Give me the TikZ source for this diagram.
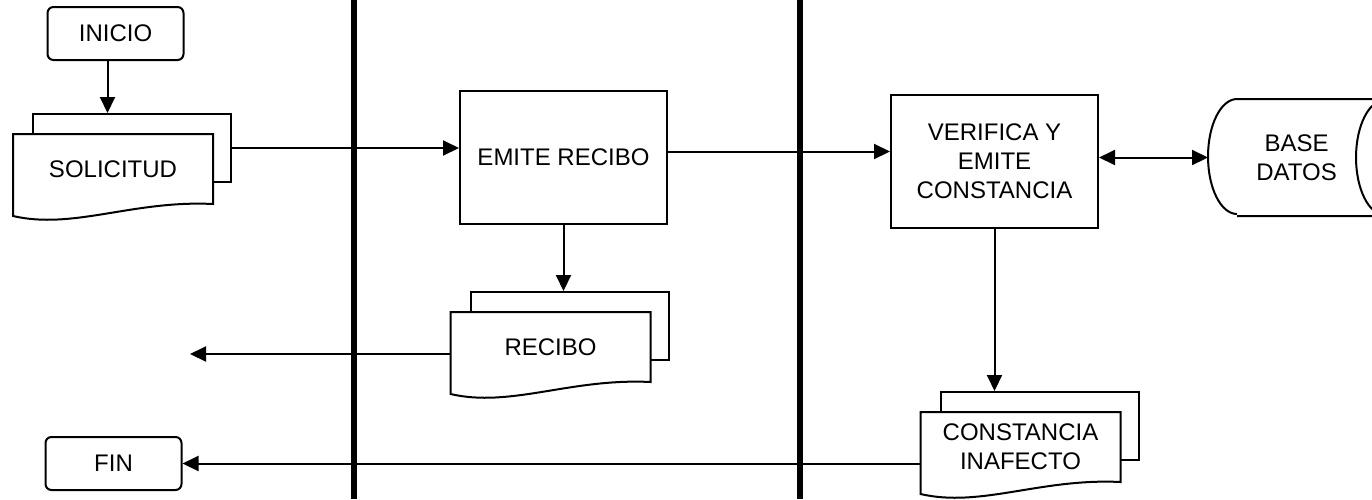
\documentclass[tikz,border=0pt]{standalone}
\usepackage{fontspec}
\setmainfont{Liberation Sans}
\usetikzlibrary{shapes.geometric, arrows.meta, positioning, calc, backgrounds}

% stacked document sheet: name, x, y, text
\newcommand{\docsheet}[4]{%
  \node[sheet] (#1) at (#2,#3) {#4};
  \begin{scope}[on background layer]
    \node[sheet, draw, fill=white, line width=2pt] (#1-b) at ($(#2,#3)+(19,-21)$) {};
    \draw[fill=white, line width=2pt] (#1.north west) -- (#1.north east) -- (#1.south east)
      .. controls ($(#1.south west)!0.6!(#1.south east)+(0,-4)$) and ($(#1.south west)!0.3!(#1.south east)+(0,26)$) .. ($(#1.south west)+(0,12)$) -- cycle;
  \end{scope}
}

\begin{document}
\begin{tikzpicture}[
    x=1pt, y=-1pt, line width=2pt,
    term/.style={rectangle, draw, rounded corners=6pt, minimum width=136pt, minimum height=53pt, inner sep=0pt, font=\fontsize{24}{29}\selectfont},
    proc/.style={rectangle, draw, align=center, minimum width=207pt, minimum height=133pt, inner sep=0pt, font=\fontsize{24}{29}\selectfont},
    sheet/.style={rectangle, align=center, minimum width=198pt, minimum height=68pt, inner sep=0pt, font=\fontsize{24}{29}\selectfont},
    store/.style={rectangle, align=center, minimum width=175pt, minimum height=115pt, inner sep=0pt, font=\fontsize{24}{29}\selectfont},
    lane/.style={line width=6pt},
    arrow/.style={-{Triangle[length=16pt, width=15pt]}},
    dbl/.style={{Triangle[length=16pt, width=15pt]}-{Triangle[length=16pt, width=15pt]}}
]
\useasboundingbox (0,0) rectangle (1372,499);

% lanes
\draw[lane] (354,0) -- (354,499);
\draw[lane] (800,0) -- (800,499);

\node[term] (ini) at (115.5,33.5) {INICIO};
\node[term] (fin) at (113.5,463.5) {FIN};
\node[proc] (emi) at (563.5,157.5) {EMITE RECIBO};
\node[proc] (ver) at (994.5,161.5) {VERIFICA Y\\EMITE\\CONSTANCIA};

\docsheet{sol}{113}{169}{SOLICITUD}
\docsheet{rec}{550.5}{347}{RECIBO}
\docsheet{cons}{1020.5}{447}{CONSTANCIA\\INAFECTO}

% horizontal cylinder
\node[store] (db) at (1296.5,157.5) {BASE\\DATOS};
\draw ($(db.north west)+(29,0)$) -- (db.north east)
  ($(db.south west)+(29,0)$) -- (db.south east)
  ($(db.north west)+(29,0)$) arc[start angle=90, end angle=270, x radius=29pt, y radius=57.5pt]
  (db.east) ellipse[x radius=29pt, y radius=57.5pt];

\coordinate (recout) at (190,354);

% Edges
\draw[arrow] ([xshift=-8pt]ini.south) -- ([xshift=-8pt]ini.south |- sol-b.north);
\draw[arrow] (sol-b.east) -- (sol-b.east -| emi.west);
\draw[arrow] (emi.south) -- (emi.south |- rec-b.north);
\draw[arrow] ([yshift=6pt]emi.east) -- ([yshift=6pt]emi.east -| ver.west);
\draw[dbl] (ver.east |- db.west) -- (db.west);
\draw[arrow] (ver.south) -- (ver.south |- cons-b.north);
\draw[arrow] (recout -| rec.west) -- (recout);
\draw[arrow] (fin.east -| cons.west) -- (fin.east);

\end{tikzpicture}
\end{document}
